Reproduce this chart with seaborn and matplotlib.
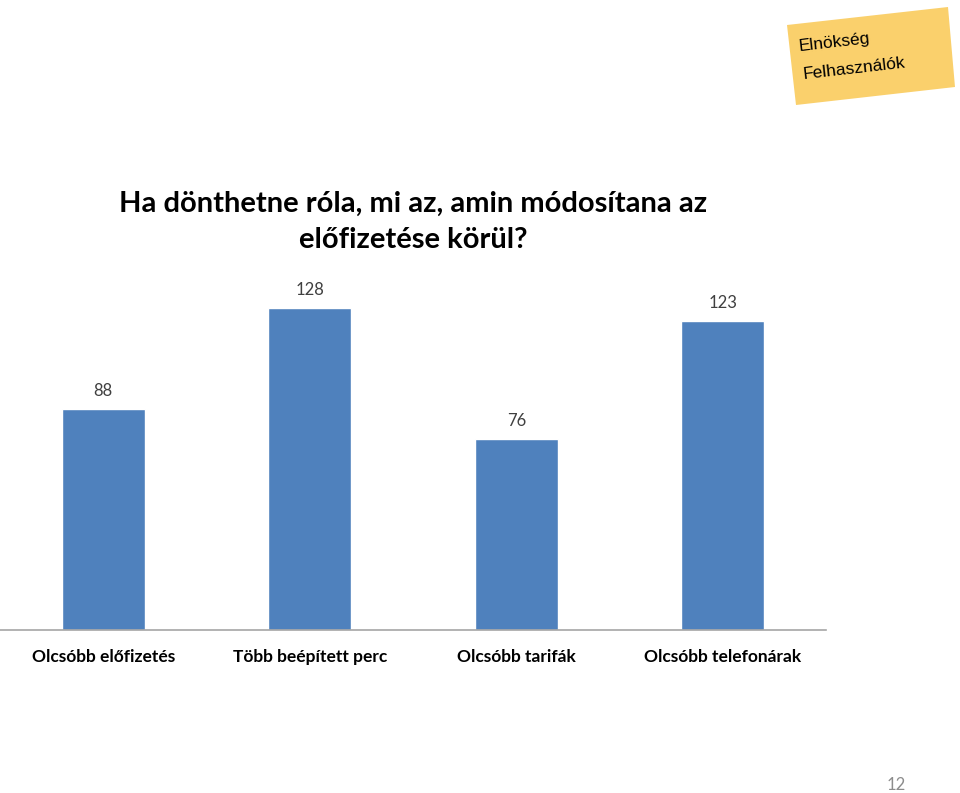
import matplotlib
matplotlib.use("Agg")
import matplotlib.pyplot as plt
import matplotlib.patches as mpatches
import seaborn as sns
import pandas as pd

categories = ["Olcsóbb előfizetés", "Több beépített perc", "Olcsóbb tarifák", "Olcsóbb telefonárak"]
values = [88, 128, 76, 123]
title_lines = ["Ha dönthetne róla, mi az, amin módosítana az", "előfizetése körül?"]
note_lines = ["Elnökség", "Felhasználók"]
page_number = "12"

sns.set_theme(style="white")
plt.rcParams['font.family'] = ['Lato', 'DejaVu Sans']

W, H = 960, 793
fig = plt.figure(figsize=(W / 100, H / 100), dpi=100)
fig.patch.set_facecolor("white")

ax = fig.add_axes([0.0, (H - 630) / H, 826 / W, 352 / H])
df = pd.DataFrame({"cat": categories, "val": values})
sns.barplot(data=df, x="cat", y="val", color="#4F81BD", saturation=1, width=0.4, ax=ax)
ax.set_ylim(0, 140)
ax.set_xlim(-0.5, len(categories) - 0.5)
ax.set_xlabel("")
ax.set_ylabel("")
ax.set_yticks([])
for s in ["top", "right", "left"]:
    ax.spines[s].set_visible(False)
ax.spines["bottom"].set_color("#A6A6A6")
ax.spines["bottom"].set_linewidth(1.2)
ax.tick_params(axis="x", length=0, pad=14)
for lbl in ax.get_xticklabels():
    lbl.set_fontsize(12.5)
    lbl.set_fontweight("bold")
    lbl.set_color("black")

for c in ax.containers:
    ax.bar_label(c, labels=[str(v) for v in values], padding=7, fontsize=12, color="#404040")

# Title
fig.text(413 / W, 1 - 204 / H, title_lines[0], ha="center", va="center", fontsize=21, fontweight="bold", color="black")
fig.text(413 / W, 1 - 240 / H, title_lines[1], ha="center", va="center", fontsize=21, fontweight="bold", color="black")

# Sticky note
corners = [(787, 25), (948, 7), (955, 87), (796, 105)]
poly = mpatches.Polygon([(x / W, 1 - y / H) for x, y in corners], closed=True,
                        facecolor="#FAD06C", edgecolor="none", transform=fig.transFigure)
fig.patches.append(poly)
fig.text(834 / W, 1 - 42 / H, note_lines[0], ha="center", va="center", fontsize=12.5,
         family=["Liberation Sans", "DejaVu Sans"], rotation=6.5, color="black")
fig.text(854 / W, 1 - 69 / H, note_lines[1], ha="center", va="center", fontsize=12.5,
         family=["Liberation Sans", "DejaVu Sans"], rotation=6.5, color="black")

# Page number
fig.text(896 / W, 1 - 785 / H, page_number, ha="center", va="center", fontsize=12, color="#8C8C8C")

fig.savefig("out.png", dpi=100)
